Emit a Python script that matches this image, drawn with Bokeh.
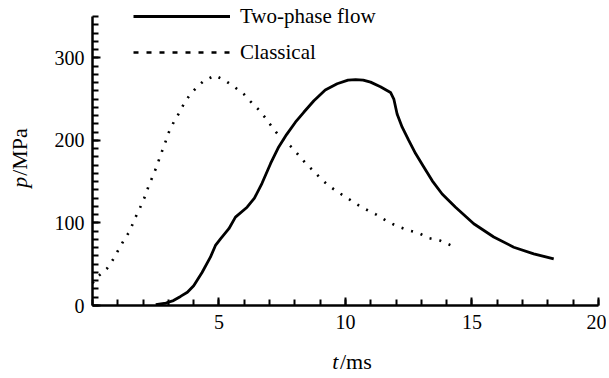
from bokeh.plotting import figure
from bokeh.models import Range1d, FixedTicker, Legend, LegendItem, Label, LinearAxis
from bokeh.embed import file_html
from bokeh.resources import INLINE
from math import pi

# Two-phase flow curve (t in ms, p in MPa)
t_two = [2.5, 2.9, 3.2, 3.48, 3.75, 4.0, 4.33, 4.66, 4.86, 5.06, 5.39, 5.65, 6.11,
         6.4, 6.7, 7.04, 7.36, 7.67, 8.02, 8.35, 8.75, 9.2, 9.67, 10.1, 10.4, 10.7,
         10.99, 11.38, 11.78, 11.91, 12.04, 12.24, 12.5, 12.77, 13.1, 13.43, 13.82,
         14.35, 15.07, 15.86, 16.65, 17.44, 18.23]
p_two = [1, 3, 6, 11, 16, 24, 40, 58.5, 72.7, 80.7, 93, 107, 119,
         130, 148, 172, 192, 207, 222, 234, 248, 261, 268.5, 273, 273.5, 273,
         270.5, 265, 258, 250, 232, 216, 200, 184, 167.5, 151, 135,
         119, 99, 83, 70.6, 62.6, 56.5]

# Classical curve
t_cls = [0, 0.25, 0.58, 0.8, 1.0, 1.24, 1.47, 1.67, 1.86, 2.06, 2.2, 2.36, 2.52,
         2.69, 2.86, 3.02, 3.21, 3.44, 3.64, 3.87, 4.14, 4.4, 4.84, 5.26, 5.62,
         5.98, 6.25, 6.57, 6.84, 7.1, 7.36, 7.93, 8.2, 8.46, 8.72, 9.04, 9.34,
         9.67, 10.0, 10.4, 10.8, 11.19, 11.65, 12.04, 12.5, 12.9, 13.3, 13.73, 14.18]
p_cls = [27, 36, 45, 55, 66, 79, 90, 105, 117, 131, 143, 155, 167,
         182, 196, 210, 222, 234, 246, 256, 265, 272, 278.6, 272, 264.5,
         256, 247, 237, 227, 216, 206, 190, 180, 171, 163.5, 153, 145,
         138, 131.5, 123.5, 116.5, 110.5, 102, 96, 91, 87.6, 81.5, 78.7, 72.7]

x_major = [5, 10, 15, 20]
x_minor = list(range(0, 21))
y_major = [0, 100, 200, 300]
y_minor = list(range(0, 351, 10))

SERIF = "Liberation Serif"
W, H = 606, 376

# the frame covers the whole canvas; axes are pinned at t=0 / p=0
p = figure(width=W, height=H, output_backend="svg", toolbar_location=None,
           x_range=Range1d(-3.63636, 20.31621), y_range=Range1d(-85.986, 369.377),
           x_axis_location=None, y_axis_location=None)
p.min_border = 0
p.min_border_left = 0
p.min_border_right = 0
p.min_border_top = 0
p.min_border_bottom = 0
p.outline_line_color = None
p.background_fill_color = "white"
p.border_fill_color = "white"
p.grid.visible = False

xaxis = LinearAxis(fixed_location=0, bounds=(0, 20),
                   ticker=FixedTicker(ticks=x_major, minor_ticks=x_minor))
yaxis = LinearAxis(fixed_location=0, bounds=(0, 350),
                   ticker=FixedTicker(ticks=y_major, minor_ticks=y_minor))
for ax in (xaxis, yaxis):
    ax.axis_line_width = 2.5
    ax.axis_line_color = "black"
    ax.major_tick_line_width = 2
    ax.minor_tick_line_width = 2
    ax.major_tick_line_color = "black"
    ax.minor_tick_line_color = "black"
    ax.major_tick_in = 8
    ax.major_tick_out = 0
    ax.minor_tick_in = 6
    ax.minor_tick_out = 0
    ax.major_label_text_font = SERIF
    ax.major_label_text_font_size = "20px"
    ax.major_label_text_color = "black"
xaxis.major_label_standoff = 9
yaxis.major_label_standoff = 8
p.add_layout(xaxis, "below")
p.add_layout(yaxis, "left")

r_two = p.line(t_two, p_two, line_color="black", line_width=2.8)
r_cls = p.line(t_cls, p_cls, line_color="black", line_width=2.6, line_dash="2 8")
r_cls_leg = p.line(t_cls[:1], p_cls[:1], line_color="black", line_width=2.6,
                   line_dash="5 8")

legend = Legend(items=[LegendItem(label="Two-phase flow", renderers=[r_two]),
                       LegendItem(label="Classical", renderers=[r_cls_leg])],
                location=(133, H - 65), orientation="vertical",
                glyph_width=97, glyph_height=26, label_height=26, spacing=10,
                label_standoff=10, padding=0, margin=0,
                border_line_color=None, background_fill_alpha=0,
                label_text_font=SERIF, label_text_font_size="21px",
                label_text_color="black")
p.add_layout(legend)

# axis titles (italic symbol + upright unit)
lab_kw = dict(text_font=SERIF, text_font_size="22px", text_color="black",
              text_baseline="middle")
p.add_layout(Label(x=9.72, y=-67.5, text="t", text_font_style="italic",
                   text_align="right", **lab_kw))
p.add_layout(Label(x=9.78, y=-67.5, text="/ms", text_align="left", **lab_kw))
p.add_layout(Label(x=-2.885, y=156, text="p", angle=pi / 2, text_font_style="italic",
                   text_align="right", **lab_kw))
p.add_layout(Label(x=-2.885, y=157, text="/MPa", angle=pi / 2,
                   text_align="left", **lab_kw))

open("out.html", "w").write(file_html(p, INLINE))
